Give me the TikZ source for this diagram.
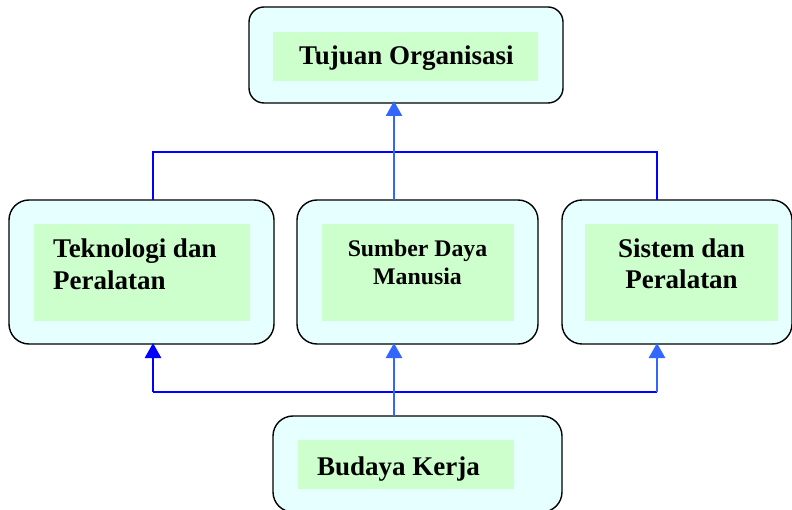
\documentclass[tikz,border=0pt]{standalone}
\usepackage{fontspec}
\setmainfont{Liberation Serif}
\usetikzlibrary{arrows.meta}
\definecolor{panelcyan}{HTML}{E6FFFF}
\definecolor{labelgreen}{HTML}{CCFFCC}
\definecolor{linkblue}{HTML}{3366FF}
\definecolor{deepblue}{HTML}{0000FF}
\tikzset{
  panel/.style={draw=black, line width=1.4pt, fill=panelcyan, rounded corners=#1,
    inner sep=0pt, outer sep=0pt},
  panel/.default=20pt,
  label box/.style={fill=labelgreen, inner sep=0pt, outer sep=0pt},
  caption/.style={font=\bfseries\fontsize{27}{32}\selectfont, inner sep=0pt},
  small caption/.style={font=\bfseries\fontsize{23.8}{28}\selectfont, inner sep=0pt, align=center},
  feed/.style={line width=1.6pt},
  lift/.style={line width=2.6pt, -{Triangle[length=15pt,width=16pt]}},
}
\begin{document}
\begin{tikzpicture}[x=1pt,y=-1pt]
\clip (0,0) rectangle (792,510);
\fill[white] (0,0) rectangle (792,510);

% goal panel
\node[panel=15pt, minimum width=314pt, minimum height=96pt] (goal) at (406,55) {};
\node[label box, minimum width=265pt, minimum height=49pt] (goalL) at (405.5,56.5) {};
\node[caption, anchor=base west] (goalT) at (299,65) {Tujuan Organisasi};

% three pillars
\node[panel, minimum width=265pt, minimum height=144pt] (tech) at (141.5,272) {};
\node[label box, minimum width=216pt, minimum height=97pt] (techL) at (142,272.5) {};
\node[caption, anchor=base west] (techT) at (53,258) {Teknologi dan};
\node[caption, anchor=base west] (techT2) at (53,290) {Peralatan};

\node[panel, minimum width=241pt, minimum height=144pt] (hr) at (417.5,272) {};
\node[label box, minimum width=192pt, minimum height=97pt] (hrL) at (418,272.5) {};
\node[small caption, anchor=base] (hrT) at (417.5,256.5) {Sumber Daya};
\node[small caption, anchor=base] (hrT2) at (417.5,285) {Manusia};

\node[panel, minimum width=230pt, minimum height=144pt] (sys) at (677,272) {};
\node[label box, minimum width=193pt, minimum height=97pt] (sysL) at (681.5,272.5) {};
\node[caption, anchor=base] (sysT) at (681.5,258) {Sistem dan};
\node[caption, anchor=base] (sysT2) at (681.5,289) {Peralatan};

% work culture panel
\node[panel, minimum width=289pt, minimum height=96pt] (culture) at (417.5,464) {};
\node[label box, minimum width=216pt, minimum height=49pt] (cultureL) at (406,464.5) {};
\node[caption, anchor=base west] (cultureT) at (317,475) {Budaya Kerja};

% junction points
\coordinate (topbar) at (394,152);
\coordinate (lowbar) at (394,392);

% pillars feed the goal
\draw[feed, deepblue] (tech.north -| 153,0) |- (topbar) -| (sys.north -| 657,0);
\draw[lift, linkblue, line width=2.4pt] (hr.north -| topbar) -- ([yshift=2pt]goal.south -| topbar);

% culture supports the pillars
\draw[feed, deepblue, line width=2pt] (153,392) -- (657,392);
\draw[lift, deepblue] (lowbar -| 153,0) -- ([yshift=1pt]tech.south -| 153,0);
\draw[lift, linkblue] (culture.north -| lowbar) -- ([yshift=1pt]hr.south -| lowbar);
\draw[lift, linkblue] (lowbar -| 657,0) -- ([yshift=1pt]sys.south -| 657,0);
\end{tikzpicture}
\end{document}
